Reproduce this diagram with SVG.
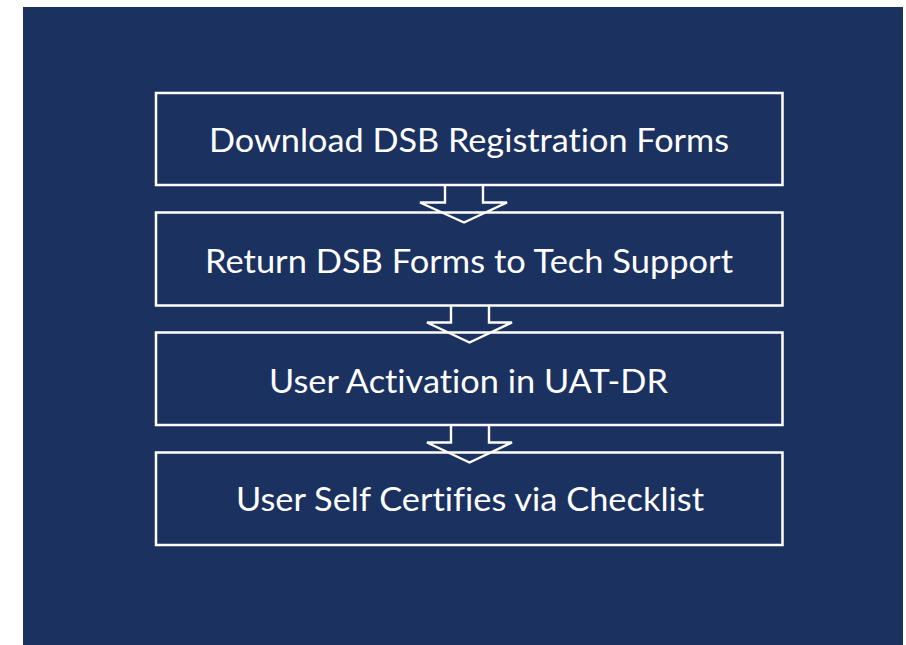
<svg xmlns="http://www.w3.org/2000/svg" width="906" height="645" viewBox="0 0 906 645">
  <style>
    .box { fill: none; stroke: #ffffff; stroke-width: 2.5; }
    .arrow { fill: none; stroke: #ffffff; stroke-width: 2.4; stroke-linejoin: miter; }
    .label { fill: #ffffff; font-family: "Lato", "Open Sans", "Liberation Sans", sans-serif; font-size: 33px; text-anchor: middle; font-variant-ligatures: none; }
  </style>
  <rect x="0" y="0" width="906" height="645" fill="#ffffff"/>
  <rect x="23" y="7" width="880" height="638" fill="#1b315f"/>
  <g id="connectors">
    <polyline class="arrow" points="445,185 445,202.5 420,202.5 464,222.5 507,202.5 483,202.5 483,185"/>
    <polyline class="arrow" points="451,305.5 451,322.5 427,322.5 469.5,342.5 512,322.5 489,322.5 489,305.5"/>
    <polyline class="arrow" points="451,425 451,442.5 427,442.5 469.5,462.5 512,442.5 489,442.5 489,425"/>
  </g>
  <g id="node1">
    <rect class="box" x="156" y="93" width="626.5" height="92"/>
    <text class="label" x="469" y="152" textLength="520" lengthAdjust="spacingAndGlyphs">Download DSB Registration Forms</text>
  </g>
  <g id="node2">
    <rect class="box" x="156" y="212.5" width="626.5" height="93"/>
    <text class="label" x="469" y="273" textLength="528" lengthAdjust="spacingAndGlyphs">Return DSB Forms to Tech Support</text>
  </g>
  <g id="node3">
    <rect class="box" x="156" y="332.5" width="626.5" height="92.5"/>
    <text class="label" x="468.5" y="393" textLength="399" lengthAdjust="spacingAndGlyphs">User Activation in UAT-DR</text>
  </g>
  <g id="node4">
    <rect class="box" x="156" y="452.5" width="626.5" height="92.5"/>
    <text class="label" x="470" y="511" textLength="468" lengthAdjust="spacingAndGlyphs">User Self Certifies via Checklist</text>
  </g>
</svg>
